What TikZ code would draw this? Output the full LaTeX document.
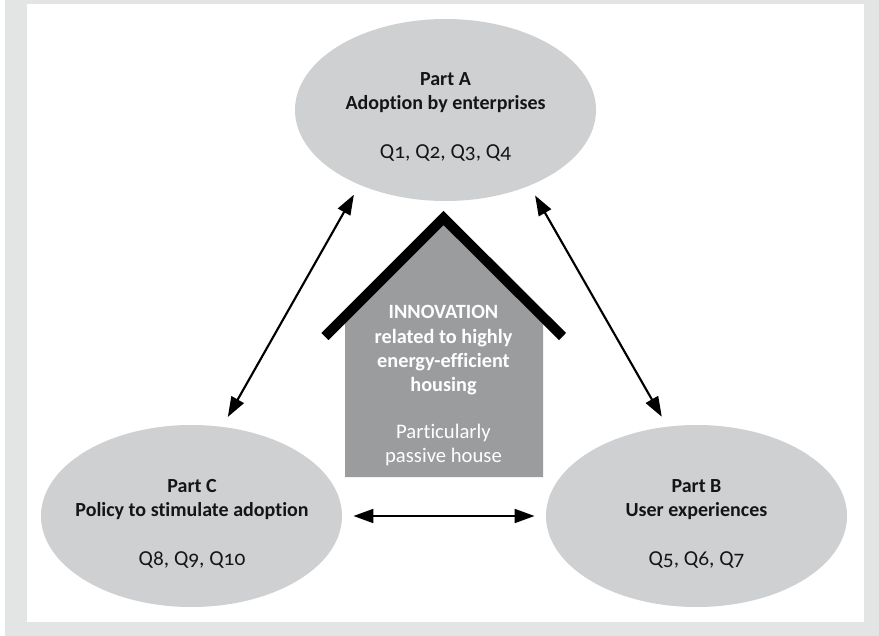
\documentclass[tikz,border=0pt]{standalone}
\usepackage{fontspec}
\setmainfont[Numbers=OldStyle,Ligatures=NoCommon]{Carlito}
\usetikzlibrary{arrows.meta,positioning,shapes.geometric}

\definecolor{framegray}{HTML}{E3E5E4}
\definecolor{partgray}{HTML}{CFD0D2}
\definecolor{housegray}{HTML}{9B9C9E}
\definecolor{inkblack}{HTML}{151515}

\newcommand{\qline}[1]{{\fontsize{16pt}{18pt}\selectfont #1}}
\newcommand{\subline}[1]{{\fontsize{15.5pt}{18pt}\selectfont #1}}

\tikzset{
  part/.style={ellipse,fill=partgray,draw=none,inner sep=0pt,outer sep=0pt,minimum width=225.75pt,minimum height=136.5pt},
  parttext/.style={align=center,font=\fontsize{15pt}{18pt}\bfseries\selectfont,text=inkblack},
  housetext/.style={align=center,font=\fontsize{15.2pt}{18.2pt}\bfseries\selectfont,text=white},
  link/.style={<->,>={Triangle[length=15pt,width=10.5pt]},line width=1.6pt,shorten <=8.6pt,shorten >=8.6pt,draw=black}
}

\begin{document}
\begin{tikzpicture} [x=0.75pt,y=-0.75pt,node distance=378.75pt]

  \useasboundingbox (0,0) rectangle (879,636);

  % frame
  \fill[framegray] (5,0) rectangle (879,636);
  \fill[white] (27,4) rectangle (864,622);

  \node[part] (partA) at (445.5,110) {};
  \node[part] (partC) at (191.5,516) {};
  \node[part] (partB) [right of=partC] {};

  \node[parttext] (textA) at (445.5,116.7) {Part A\\Adoption by enterprises\\[18.5pt]\mdseries\qline{Q1, Q2, Q3, Q4}};
  \node[parttext] (textC) at (192,523.7) {Part C\\Policy to stimulate adoption\\[18.5pt]\mdseries\qline{Q8, Q9, Q10}};
  \node[parttext] (textB) at (696.5,523.7) {Part B\\User experiences\\[18.5pt]\mdseries\qline{Q5, Q6, Q7}};

  % house
  \fill[housegray] (345,477) -- (345,323) -- (443.5,218) -- (543,323) -- (543,477) -- cycle;
  \draw[line width=7.5pt,miter limit=10] (325,336.5) -- (443.5,218) -- (562.5,336.5);

  \node[housetext] (textHouse) at (443.5,386) {INNOVATION\\related to highly\\energy-efficient\\housing\\[17pt]\mdseries\subline{Particularly}\\\mdseries\subline{passive house}};

  \path
    (partC.71.5) edge[link] (partA.221.3)
    (partB.108.5) edge[link] (partA.318.7)
    (partC) edge[link] (partB);

\end{tikzpicture}
\end{document}
